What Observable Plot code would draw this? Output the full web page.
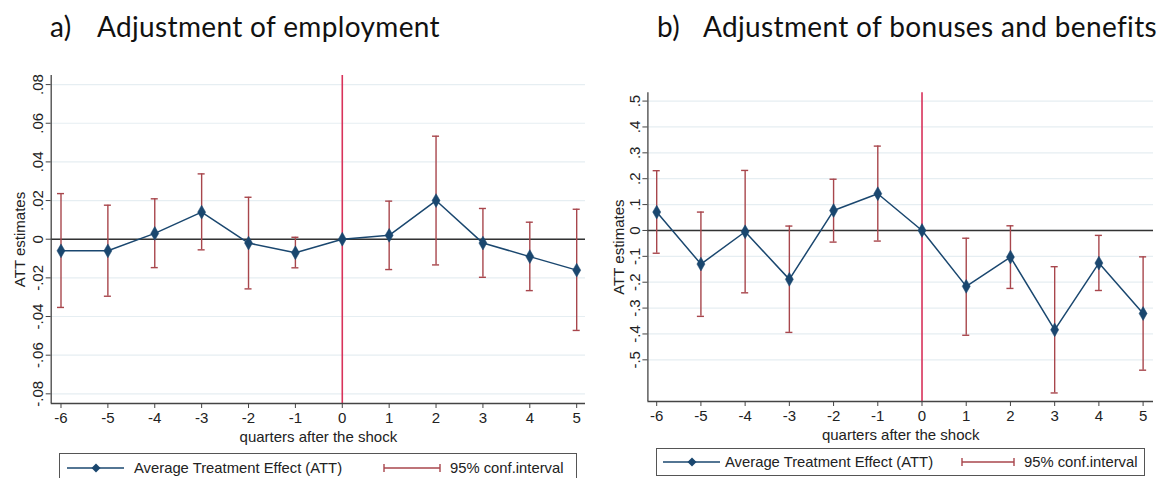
<!DOCTYPE html>
<html>
<head>
<meta charset="utf-8">
<script src="https://cdn.jsdelivr.net/npm/d3@7"></script>
<script src="https://cdn.jsdelivr.net/npm/@observablehq/plot@0.6"></script>
<style>
  html, body { margin: 0; padding: 0; background: #fff; }
  #root { position: relative; width: 1163px; height: 478px; overflow: hidden; font-family: "Liberation Sans", Arial, sans-serif; }
  .title { position: absolute; font-family: Lato, "Open Sans", sans-serif; font-size: 28px; letter-spacing: 0.35px; color: #111; white-space: pre; line-height: 1; }
  .panel { position: absolute; }
  .legend { position: absolute; border: 1px solid #555; box-sizing: border-box; font-size: 14.8px; color: #222; }
  .legend .item { position: absolute; top: 0; height: 100%; display: flex; align-items: center; white-space: nowrap; }
  .legend svg { display: block; }
</style>
</head>
<body>
<div id="root"></div>
<script>
// ---- data ----
const quarters = [-6, -5, -4, -3, -2, -1, 0, 1, 2, 3, 4, 5];

// Panel a) employment
const attA = [-0.006, -0.006, 0.003, 0.014, -0.002, -0.007, 0, 0.002, 0.020, -0.002, -0.009, -0.016];
const hiA  = [0.0236, 0.0176, 0.0209, 0.0338, 0.0217, 0.001, null, 0.0197, 0.0533, 0.0159, 0.0088, 0.0155];
const loA  = [-0.0353, -0.0295, -0.0147, -0.0055, -0.0257, -0.0148, null, -0.0157, -0.0133, -0.0197, -0.0266, -0.0472];
const ticksA = [-0.08, -0.06, -0.04, -0.02, 0, 0.02, 0.04, 0.06, 0.08];

// Panel b) bonuses and benefits
const attB = [0.071, -0.130, -0.005, -0.189, 0.077, 0.142, 0, -0.216, -0.103, -0.384, -0.126, -0.321];
const hiB  = [0.231, 0.071, 0.232, 0.017, 0.198, 0.326, null, -0.030, 0.018, -0.140, -0.019, -0.102];
const loB  = [-0.088, -0.332, -0.241, -0.394, -0.045, -0.041, null, -0.405, -0.224, -0.628, -0.232, -0.540];
const ticksB = [-0.5, -0.4, -0.3, -0.2, -0.1, 0, 0.1, 0.2, 0.3, 0.4, 0.5];

const titles = [["a)", "Adjustment of employment"], ["b)", "Adjustment of bonuses and benefits"]];
const xLabel = "quarters after the shock";
const yLabel = "ATT estimates";
const legendLabels = ["Average Treatment Effect (ATT)", "95% conf.interval"];

// ---- style ----
const navy = "#1a476f";
const ciColor = "#a8464c";
const redLine = "#d8325a";
const gridColor = "#e6eef2";

function fmtY(digits) {
  return d => d === 0 ? "0" : (d < 0 ? "-" : "") + d3.format("." + digits + "f")(Math.abs(d)).replace(/^0/, "");
}

function makePanel(cfg) {
  const rows = quarters.map((q, i) => ({q, att: cfg.att[i], lo: cfg.lo[i], hi: cfg.hi[i]}));
  const ci = rows.filter(d => d.lo != null);
  const cap = cfg.cap;
  const plot = Plot.plot({
    width: cfg.width,
    height: cfg.height,
    marginLeft: cfg.ml, marginRight: cfg.mr, marginTop: cfg.mt, marginBottom: cfg.mb,
    style: {fontFamily: "Liberation Sans, Arial, sans-serif", fontSize: "15px", color: "#222", background: "transparent"},
    x: {domain: cfg.xDomain},
    y: {domain: cfg.yDomain},
    marks: [
      Plot.gridY(cfg.ticks, {stroke: gridColor, strokeOpacity: 1, strokeWidth: 1.2}),
      Plot.ruleY([0], {stroke: "#333", strokeWidth: 1.4}),
      Plot.ruleX([0], {stroke: redLine, strokeWidth: 1.6}),
      Plot.ruleX(ci, {x: "q", y1: "lo", y2: "hi", stroke: ciColor, strokeWidth: 1.4}),
      Plot.ruleY(ci, {y: "hi", x1: d => d.q - cap, x2: d => d.q + cap, stroke: ciColor, strokeWidth: 1.4}),
      Plot.ruleY(ci, {y: "lo", x1: d => d.q - cap, x2: d => d.q + cap, stroke: ciColor, strokeWidth: 1.4}),
      Plot.line(rows, {x: "q", y: "att", stroke: navy, strokeWidth: 1.5}),
      Plot.dot(rows, {x: "q", y: "att", symbol: "diamond", fill: navy, stroke: navy, strokeWidth: 0.5, r: 4.2}),
      Plot.ruleX([cfg.xDomain[0]], {stroke: "#444", strokeWidth: 1.3}),
      Plot.ruleY([cfg.yDomain[0]], {stroke: "#444", strokeWidth: 1.3}),
      Plot.axisX({ticks: quarters, tickSize: 5, tickPadding: 4, tickFormat: d => String(d),
                  label: xLabel, labelAnchor: "center", labelOffset: 38, labelArrow: "none", stroke: "#444"}),
      Plot.axisY({ticks: cfg.ticks, tickSize: 5, tickPadding: 3, tickRotate: -90, tickFormat: fmtY(cfg.digits),
                  label: yLabel, labelAnchor: "center", labelOffset: cfg.ylo, labelArrow: "none", stroke: "#444"})
    ]
  });
  plot.classList.add("panel");
  plot.style.left = cfg.left + "px";
  plot.style.top = cfg.top + "px";
  return plot;
}

function legendSymbolLine() {
  return `<svg width="57" height="12"><line x1="0" y1="6" x2="57" y2="6" stroke="${navy}" stroke-width="1.5"/>` +
         `<path d="M29,1.5 L33.5,6 L29,10.5 L24.5,6 Z" fill="${navy}"/></svg>`;
}
function legendSymbolCI(w) {
  return `<svg width="${w}" height="12"><line x1="1" y1="6" x2="${w-1}" y2="6" stroke="${ciColor}" stroke-width="1.4"/>` +
         `<line x1="1" y1="2" x2="1" y2="10" stroke="${ciColor}" stroke-width="1.4"/>` +
         `<line x1="${w-1}" y1="2" x2="${w-1}" y2="10" stroke="${ciColor}" stroke-width="1.4"/></svg>`;
}

function makeLegend(cfg) {
  const div = document.createElement("div");
  div.className = "legend";
  div.style.left = cfg.left + "px";
  div.style.top = cfg.top + "px";
  div.style.width = cfg.width + "px";
  div.style.height = cfg.height + "px";
  div.innerHTML =
    `<div class="item" style="left:${cfg.s1}px">${legendSymbolLine()}</div>` +
    `<div class="item" style="left:${cfg.t1}px">${legendLabels[0]}</div>` +
    `<div class="item" style="left:${cfg.s2}px">${legendSymbolCI(cfg.s2w)}</div>` +
    `<div class="item" style="left:${cfg.t2}px">${legendLabels[1]}</div>`;
  return div;
}

function makeTitle(text, left, top) {
  const t = document.createElement("div");
  t.className = "title";
  t.textContent = text;
  t.style.left = left + "px";
  t.style.top = top + "px";
  return t;
}

const root = document.getElementById("root");

// Titles
root.appendChild(makeTitle(titles[0][0], 50, 12));
root.appendChild(makeTitle(titles[0][1], 97, 12));
root.appendChild(makeTitle(titles[1][0], 657, 12));
root.appendChild(makeTitle(titles[1][1], 703, 12));

// Panel a
root.appendChild(makePanel({
  att: attA, lo: loA, hi: hiA, ticks: ticksA, digits: 2,
  left: 0, top: 60, width: 592, height: 392,
  ml: 50.7, mr: 7, mt: 15, mb: 49,
  xDomain: [-6.209, 5.188], yDomain: [-0.085, 0.0847],
  cap: 0.075, ylo: 37
}));

// Panel b
root.appendChild(makePanel({
  att: attB, lo: loB, hi: hiB, ticks: ticksB, digits: 1,
  left: 590, top: 80, width: 573, height: 370,
  ml: 57.4, mr: 10, mt: 12.3, mb: 49,
  xDomain: [-6.199, 5.235], yDomain: [-0.661, 0.532],
  cap: 0.08, ylo: 35
}));

// Legends
root.appendChild(makeLegend({left: 59, top: 453, width: 518, height: 30, s1: 7, t1: 74, s2: 323, s2w: 58, t2: 390}));
root.appendChild(makeLegend({left: 656, top: 448, width: 489, height: 28, s1: 6, t1: 68, s2: 304, s2w: 54, t2: 367}));
</script>
</body>
</html>
